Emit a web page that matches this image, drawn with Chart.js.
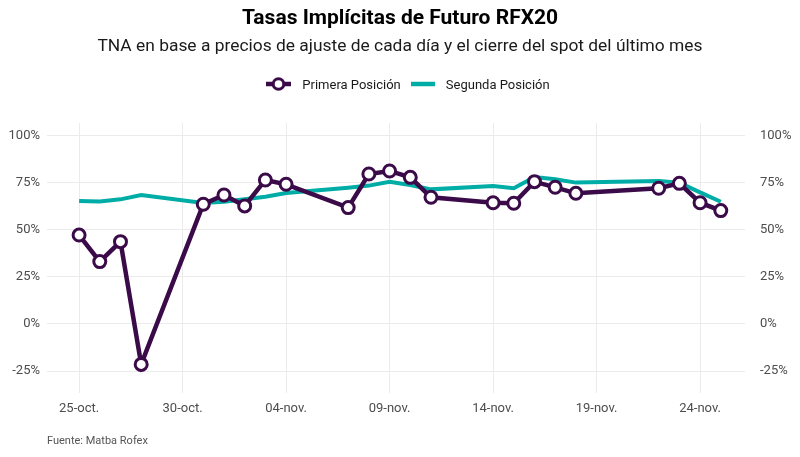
<!DOCTYPE html>
<html>
<head>
<meta charset="utf-8">
<script src="https://cdn.jsdelivr.net/npm/chart.js@4.4.0/dist/chart.umd.min.js"></script>
<style>
  html, body { margin: 0; padding: 0; background: #ffffff; }
  #wrap { position: relative; width: 800px; height: 457px; font-family: Roboto, "Noto Sans", sans-serif; }
  #c { position: absolute; left: 0; top: 0; }
  .title { position: absolute; left: 0; width: 800px; text-align: center; top: 3px; font-size: 21px; font-weight: bold; color: #000; line-height: 28px; }
  .subtitle { position: absolute; left: 0; width: 800px; text-align: center; top: 34px; font-size: 17.4px; color: #1a1a1a; line-height: 22px; }
  .legend { position: absolute; left: 8px; width: 800px; top: 75px; height: 18px; display: flex; justify-content: center; align-items: center; font-size: 13px; color: #1a1a1a; }
  .legend .item { display: flex; align-items: center; margin: 0 5px; }
  .legend svg { margin-right: 11px; }
  .footer { position: absolute; left: 47px; top: 434px; font-size: 11px; color: #555; }
</style>
</head>
<body>
<div id="wrap">
  <canvas id="c" width="800" height="457"></canvas>
  <div class="title">Tasas Implícitas de Futuro RFX20</div>
  <div class="subtitle">TNA en base a precios de ajuste de cada día y el cierre del spot del último mes</div>
  <div class="legend">
    <div class="item">
      <svg width="25" height="16"><line x1="0" y1="8" x2="25" y2="8" stroke="#3b0a48" stroke-width="4.5"/><circle cx="12.5" cy="8" r="5.3" fill="#fff" stroke="#3b0a48" stroke-width="3"/></svg>
      <span id="lg1"></span>
    </div>
    <div class="item">
      <svg width="24" height="16"><line x1="0" y1="8" x2="24" y2="8" stroke="#00ada6" stroke-width="4.5"/></svg>
      <span id="lg2"></span>
    </div>
  </div>
  <div class="footer">Fuente: Matba Rofex</div>
</div>
<script>
// ---- data ----
const dates = ['2022-10-25','2022-10-26','2022-10-27','2022-10-28','2022-10-31','2022-11-01','2022-11-02','2022-11-03','2022-11-04','2022-11-07','2022-11-08','2022-11-09','2022-11-10','2022-11-11','2022-11-14','2022-11-15','2022-11-16','2022-11-17','2022-11-18','2022-11-22','2022-11-23','2022-11-24','2022-11-25'];
const primeraPosicion = [47.3, 33.2, 43.8, -21.5, 63.7, 68.6, 62.8, 76.6, 74.3, 61.9, 79.8, 81.4, 78.0, 67.4, 64.5, 64.2, 75.7, 72.7, 69.5, 72.2, 74.8, 64.5, 60.3];
const segundaPosicion = [65.4, 65.2, 66.3, 68.6, 64.4, 65.0, 66.3, 67.7, 69.7, 72.5, 73.6, 75.7, 73.9, 71.6, 73.4, 72.2, 78.2, 77.0, 75.2, 76.0, 75.2, 70.0, 65.0];
const seriesNames = ['Primera Posición', 'Segunda Posición'];
const xTickDates = ['2022-10-25','2022-10-30','2022-11-04','2022-11-09','2022-11-14','2022-11-19','2022-11-24'];
const xTickLabels = ['25-oct.','30-oct.','04-nov.','09-nov.','14-nov.','19-nov.','24-nov.'];
const yTickValues = [-25, 0, 25, 50, 75, 100];

document.getElementById('lg1').textContent = seriesNames[0];
document.getElementById('lg2').textContent = seriesNames[1];

const DAY = 86400000;
const t0 = Date.parse(dates[0]);
const dayIndex = d => Math.round((Date.parse(d) - t0) / DAY);
const xs = dates.map(dayIndex);
const xTicks = xTickDates.map(dayIndex);

const purple = '#3b0a48';
const teal = '#00ada6';
const gridColor = '#ebebeb';
const tickColor = '#4d4d4d';

const yMin = -36.7, yMax = 106.9;

new Chart(document.getElementById('c'), {
  type: 'line',
  data: {
    datasets: [
      {
        label: seriesNames[0],
        data: xs.map((x, i) => ({ x: x, y: primeraPosicion[i] })),
        borderColor: purple,
        borderWidth: 4.5,
        pointRadius: 6,
        pointBorderWidth: 3,
        pointBackgroundColor: '#ffffff',
        pointBorderColor: purple,
        tension: 0,
        order: 0,
        yAxisID: 'y'
      },
      {
        label: seriesNames[1],
        data: xs.map((x, i) => ({ x: x, y: segundaPosicion[i] })),
        borderColor: teal,
        borderWidth: 4,
        pointRadius: 0,
        tension: 0,
        order: 1,
        yAxisID: 'y'
      }
    ]
  },
  options: {
    responsive: false,
    animation: false,
    devicePixelRatio: 1,
    layout: { padding: { left: 0, right: 0, top: 123, bottom: 34 } },
    plugins: {
      legend: { display: false },
      title: { display: false },
      tooltip: { enabled: false }
    },
    scales: {
      x: {
        type: 'linear',
        min: -1.55,
        max: 32.17,
        afterBuildTicks: s => { s.ticks = xTicks.map(v => ({ value: v })); },
        afterFit: s => { s.height = 30; },
        grid: { color: gridColor, drawTicks: false, lineWidth: 1 },
        border: { display: false },
        ticks: {
          padding: 8,
          color: tickColor,
          font: { family: 'Roboto', size: 13 },
          callback: v => { const i = xTicks.indexOf(v); return i >= 0 ? xTickLabels[i] : ''; },
          maxRotation: 0,
          autoSkip: false
        }
      },
      y: {
        type: 'linear',
        position: 'left',
        min: yMin,
        max: yMax,
        afterBuildTicks: s => { s.ticks = yTickValues.map(v => ({ value: v })); },
        afterFit: s => { s.width = 47; },
        grid: { color: gridColor, drawTicks: false, lineWidth: 1 },
        border: { display: false },
        ticks: {
          padding: 7,
          color: tickColor,
          font: { family: 'Roboto', size: 13 },
          callback: v => v + '%'
        }
      },
      y2: {
        type: 'linear',
        position: 'right',
        min: yMin,
        max: yMax,
        afterBuildTicks: s => { s.ticks = yTickValues.map(v => ({ value: v })); },
        afterFit: s => { s.width = 55; },
        grid: { display: false, drawTicks: false },
        border: { display: false },
        ticks: {
          padding: 15,
          color: tickColor,
          font: { family: 'Roboto', size: 13 },
          callback: v => v + '%'
        }
      }
    }
  }
});
</script>
</body>
</html>
